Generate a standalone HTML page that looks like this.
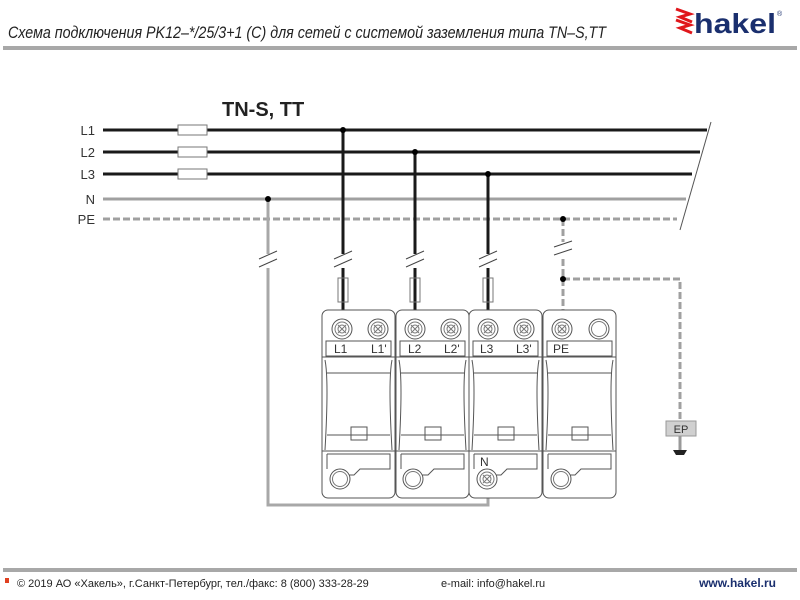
<!DOCTYPE html>
<html><head><meta charset="utf-8"><style>
body{margin:0;background:#fff;width:800px;height:600px;overflow:hidden}
svg{display:block}
text{font-family:"Liberation Sans",sans-serif}
</style></head><body>
<svg width="800" height="600" viewBox="0 0 800 600">
<!-- header -->
<text x="8" y="38" font-size="17" font-style="italic" fill="#222" textLength="598" lengthAdjust="spacingAndGlyphs" style="font-family:'Liberation Sans Narrow','Liberation Sans',sans-serif">Схема подключения PK12–*/25/3+1 (C) для сетей с системой заземления типа TN–S,TT</text>
<rect x="3" y="46" width="794" height="4" fill="#a8a8a8"/>
<!-- logo -->
<path d="M676 9 L690 14 L680 17 L692 22" stroke="#e0161b" stroke-width="3" fill="none"/>
<path d="M676 20 L690 25 L680 28 L692 33" stroke="#e0161b" stroke-width="3" fill="none"/>
<text x="694" y="33" font-size="28" font-weight="bold" fill="#1a2f6e" textLength="82" lengthAdjust="spacingAndGlyphs">hakel</text>
<text x="777" y="16" font-size="7" fill="#1a2f6e">®</text>
<!-- title -->
<text x="222" y="116" font-size="20" font-weight="bold" fill="#222">TN-S, TT</text>
<!-- bus labels -->
<g font-size="13" fill="#333" text-anchor="end">
<text x="95" y="135">L1</text><text x="95" y="157">L2</text><text x="95" y="179">L3</text><text x="95" y="204">N</text><text x="95" y="224">PE</text>
</g>
<!-- buses -->
<g stroke-width="3" fill="none">
<line x1="103" y1="130" x2="707" y2="130" stroke="#1a1a1a"/>
<line x1="103" y1="152" x2="700" y2="152" stroke="#1a1a1a"/>
<line x1="103" y1="174" x2="692" y2="174" stroke="#1a1a1a"/>
<line x1="103" y1="199" x2="686" y2="199" stroke="#a0a0a0"/>
<line x1="103" y1="219" x2="677" y2="219" stroke="#a0a0a0" stroke-dasharray="7 3"/>
</g>
<line x1="711" y1="122" x2="680" y2="230" stroke="#555" stroke-width="1"/>
<g fill="#fff" stroke="#777" stroke-width="1">
<rect x="178" y="125" width="29" height="10"/><rect x="178" y="147" width="29" height="10"/><rect x="178" y="169" width="29" height="10"/>
</g>
<!-- verticals -->
<g stroke-width="3" fill="none">
<line x1="343" y1="130" x2="343" y2="310" stroke="#1a1a1a"/>
<line x1="415" y1="152" x2="415" y2="310" stroke="#1a1a1a"/>
<line x1="488" y1="174" x2="488" y2="310" stroke="#1a1a1a"/>
<polyline points="268,199 268,505 488,505 488,492" stroke="#a8a8a8"/>
<line x1="563" y1="219" x2="563" y2="310" stroke="#a0a0a0" stroke-dasharray="7 3"/>
<polyline points="563,279 680,279 680,421" stroke="#a0a0a0" stroke-dasharray="7 3"/>
</g>
<!-- break marks -->
<g fill="#fff" stroke="none">
<rect x="258" y="254" width="20" height="14"/><rect x="333" y="254" width="20" height="14"/><rect x="405" y="254" width="20" height="14"/><rect x="478" y="254" width="20" height="14"/><rect x="553" y="242" width="20" height="14"/>
</g>
<g stroke="#444" stroke-width="1">
<line x1="259" y1="259" x2="277" y2="251"/><line x1="259" y1="267" x2="277" y2="259"/>
<line x1="334" y1="259" x2="352" y2="251"/><line x1="334" y1="267" x2="352" y2="259"/>
<line x1="406" y1="259" x2="424" y2="251"/><line x1="406" y1="267" x2="424" y2="259"/>
<line x1="479" y1="259" x2="497" y2="251"/><line x1="479" y1="267" x2="497" y2="259"/>
<line x1="554" y1="247" x2="572" y2="241"/><line x1="554" y1="255" x2="572" y2="249"/>
</g>
<g fill="none" stroke="#777" stroke-width="1">
<rect x="338" y="278" width="10" height="24"/><rect x="410" y="278" width="10" height="24"/><rect x="483" y="278" width="10" height="24"/>
</g>
<!-- dots -->
<g fill="#000">
<circle cx="343" cy="130" r="3"/><circle cx="415" cy="152" r="3"/><circle cx="488" cy="174" r="3"/><circle cx="268" cy="199" r="3"/><circle cx="563" cy="219" r="3"/><circle cx="563" cy="279" r="3"/>
</g>
<!-- modules -->
<defs>
<g id="term"><circle r="10" fill="#fff" stroke="#555"/><circle r="7" fill="none" stroke="#777"/><circle r="4" fill="none" stroke="#777"/><path d="M-4-4L4 4M-4 4L4-4" stroke="#777"/></g>
<g id="mod" fill="none" stroke="#555" stroke-width="1">
<rect x="0" y="0" width="73" height="188" rx="6" fill="#fff"/>
<rect x="4" y="31" width="65" height="15"/>
<line x1="0" y1="47" x2="73" y2="47"/>
<path d="M3 50 Q7 70 3 140 M70 50 Q66 70 70 140"/>
<line x1="5" y1="63" x2="68" y2="63"/>
<line x1="5" y1="125" x2="68" y2="125"/>
<line x1="0" y1="141" x2="73" y2="141"/>
<rect x="29" y="117" width="16" height="13"/>
<path d="M5 144 H68 V159 H38 L32 165 H24"/>
<line x1="5" y1="144" x2="5" y2="159"/>
</g>
<g id="plain"><circle r="10" fill="#fff" stroke="#555"/><circle r="7.5" fill="none" stroke="#777"/></g>
</defs>
<use href="#mod" x="322" y="310"/><use href="#mod" x="396" y="310"/><use href="#mod" x="469" y="310"/><use href="#mod" x="543" y="310"/>
<use href="#term" x="342" y="329"/><use href="#term" x="378" y="329"/>
<use href="#term" x="415" y="329"/><use href="#term" x="451" y="329"/>
<use href="#term" x="488" y="329"/><use href="#term" x="524" y="329"/>
<use href="#term" x="562" y="329"/><use href="#plain" x="599" y="329"/>
<use href="#plain" x="340" y="479"/><use href="#plain" x="413" y="479"/><use href="#term" x="487" y="479"/><use href="#plain" x="561" y="479"/>
<g font-size="12" fill="#333">
<text x="334" y="353">L1</text><text x="371" y="353">L1'</text>
<text x="408" y="353">L2</text><text x="444" y="353">L2'</text>
<text x="480" y="353">L3</text><text x="516" y="353">L3'</text>
<text x="553" y="353">PE</text>
<text x="480" y="466">N</text>
</g>
<!-- EP -->
<rect x="666" y="421" width="30" height="15" fill="#d0d0d0" stroke="#999"/>
<text x="681" y="433" font-size="11" fill="#333" text-anchor="middle">EP</text>
<line x1="680" y1="436" x2="680" y2="450" stroke="#999" stroke-width="3"/>
<path d="M673 450 H687 L684 455 H676 Z" fill="#222"/>
<!-- footer -->
<rect x="3" y="568" width="794" height="4" fill="#a8a8a8"/>
<rect x="5" y="578" width="4" height="5" fill="#e04020"/>
<text x="17" y="587" font-size="11" fill="#222">© 2019 АО «Хакель», г.Санкт-Петербург, тел./факс: 8 (800) 333-28-29</text>
<text x="441" y="587" font-size="11" fill="#222">e-mail: info@hakel.ru</text>
<text x="776" y="587" font-size="12" font-weight="bold" fill="#1a2f6e" text-anchor="end">www.hakel.ru</text>
</svg>
</body></html>
